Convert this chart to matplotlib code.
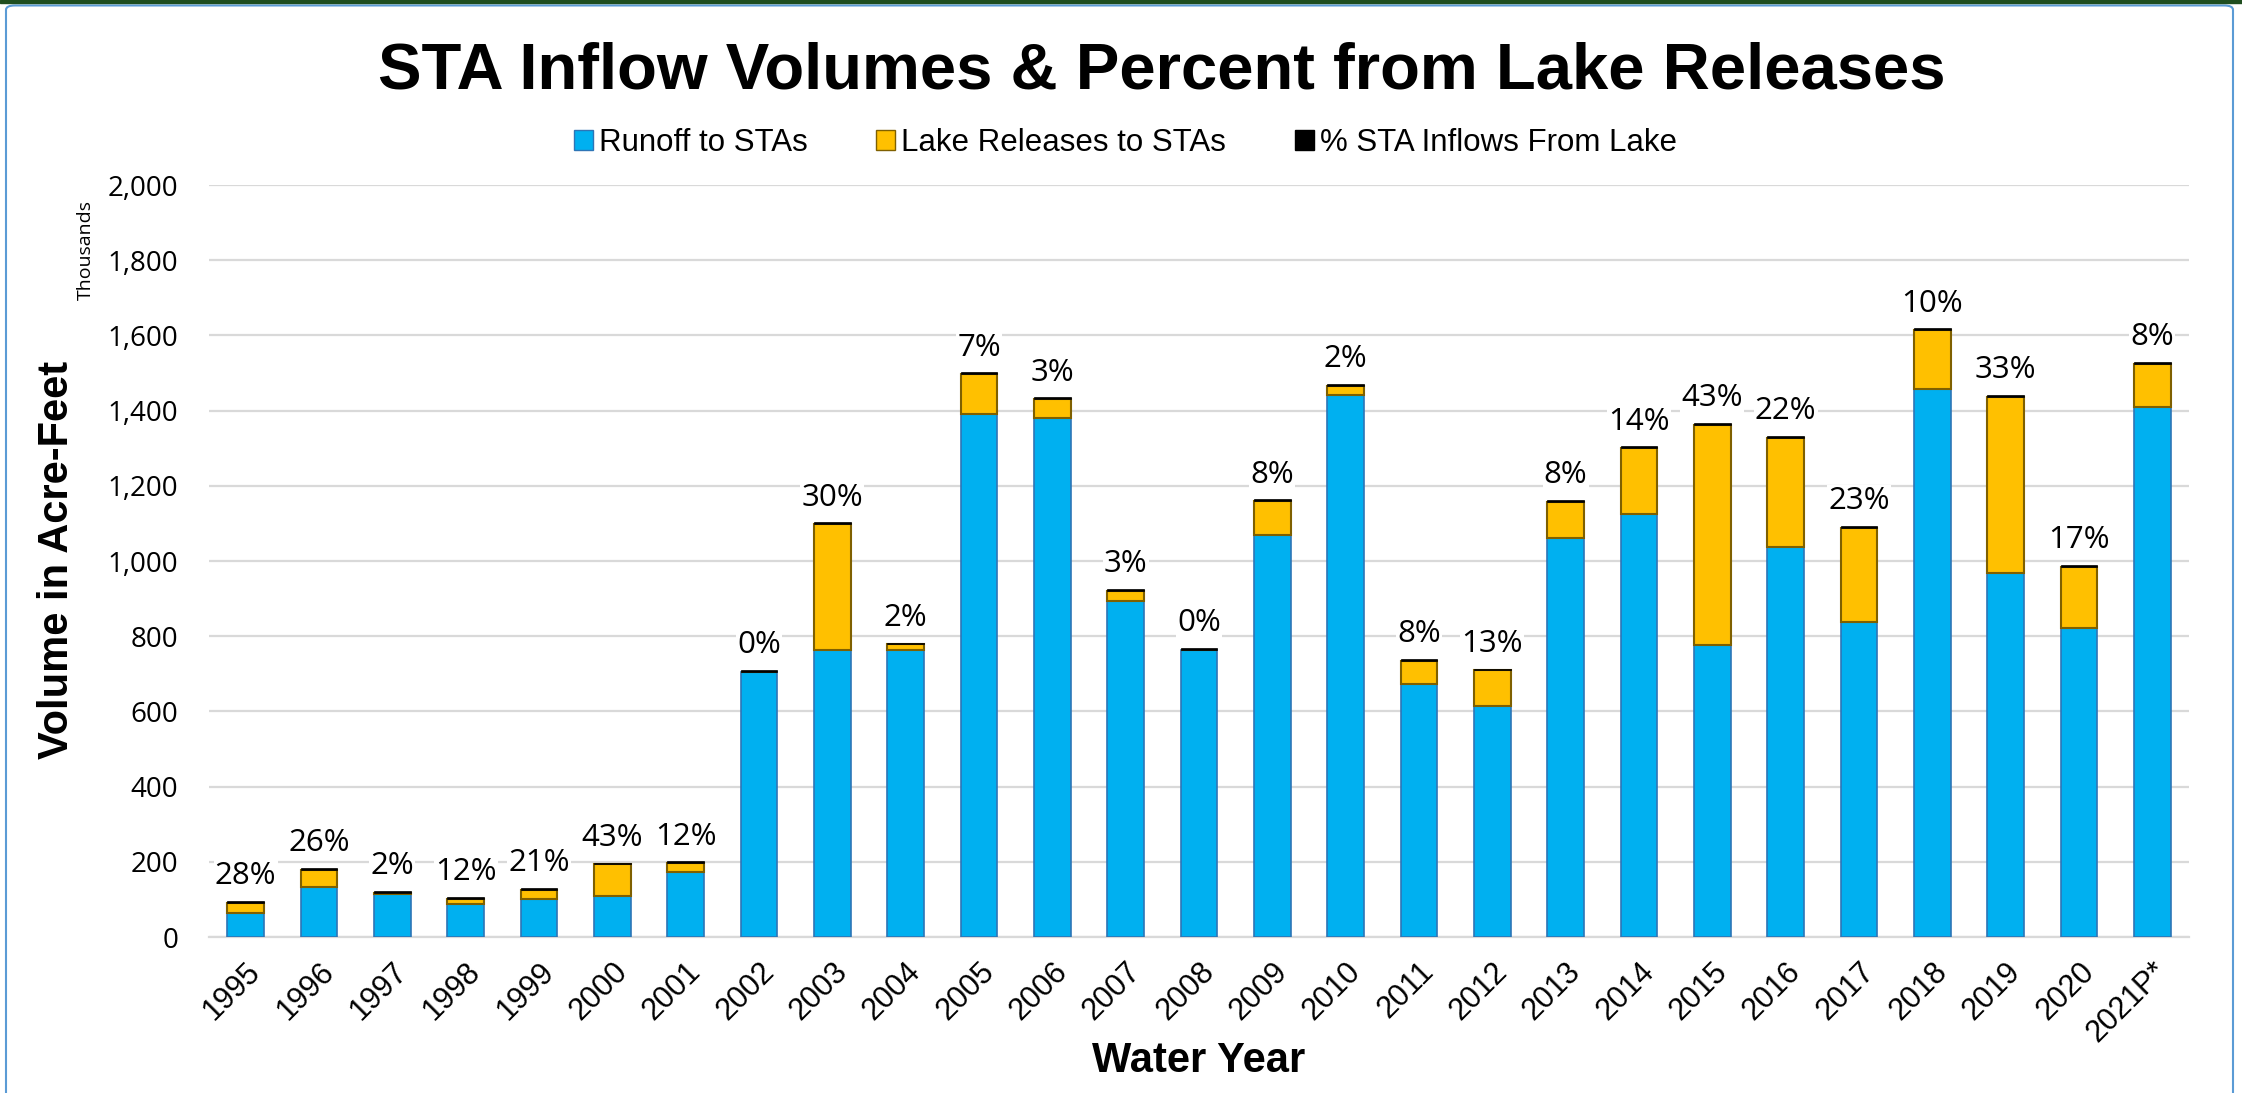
import matplotlib.pyplot as plt
from matplotlib.patches import Patch, FancyBboxPatch
from matplotlib.ticker import FuncFormatter
import numpy as np

# Water years and volumes (thousands of acre-feet)
years = ['1995', '1996', '1997', '1998', '1999', '2000', '2001', '2002', '2003',
         '2004', '2005', '2006', '2007', '2008', '2009', '2010', '2011', '2012',
         '2013', '2014', '2015', '2016', '2017', '2018', '2019', '2020', '2021P*']
runoff = [65, 132, 115, 89, 100, 110, 174, 705, 762, 764, 1391, 1381, 894, 764,
          1070, 1442, 674, 614, 1061, 1125, 777, 1037, 839, 1457, 967, 821, 1409]
lake = [26, 46, 3, 12, 26, 83, 22, 1, 336, 14, 106, 49, 27, 0, 89, 24, 60, 95,
        97, 175, 585, 291, 249, 157, 469, 164, 115]
pct_from_lake = [28, 26, 2, 12, 21, 43, 12, 0, 30, 2, 7, 3, 3, 0, 8, 2, 8, 13,
                 8, 14, 43, 22, 23, 10, 33, 17, 8]

BLUE = '#00B0F0'
GOLD = '#FFC000'
GRID = '#D9D9D9'
cap = 5  # thickness of the black "%" marker on top of each bar

W, H = 2242, 1093
fig = plt.figure(figsize=(W / 100, H / 100), dpi=100)
ax = fig.add_axes([209 / W, 1 - 937 / H, (2189 - 209) / W, (937 - 185) / H])

x = np.arange(len(years))
runoff = np.array(runoff)
lake = np.array(lake)
width = 0.5

ax.bar(x, runoff, width, color=BLUE, edgecolor='#2E75B6', linewidth=1.2, zorder=3)
ax.bar(x, lake, width, bottom=runoff, color=GOLD, edgecolor='#7F6000',
       linewidth=1.5, zorder=3)
top = runoff + lake
ax.bar(x, cap, width, bottom=top, color='black', edgecolor='black',
       linewidth=0.5, zorder=3)

for xi, t, p in zip(x, top + cap, pct_from_lake):
    ax.annotate(f'{p}%', (xi, t), xytext=(0, 7), textcoords='offset points',
                ha='center', va='bottom', fontsize=22.5, family='Open Sans',
                bbox=dict(facecolor='white', edgecolor='none', pad=1), zorder=4)

ax.set_xlim(-0.5, len(years) - 0.5)
ax.set_ylim(0, 2000)
ax.set_yticks(np.arange(0, 2001, 200))
ax.yaxis.set_major_formatter(FuncFormatter(lambda v, _: f'{int(v):,}'))
ax.grid(axis='y', color=GRID, linewidth=1.6, zorder=0)
ax.set_axisbelow(True)
for s in ['top', 'right', 'left']:
    ax.spines[s].set_visible(False)
ax.spines['bottom'].set_color(GRID)
ax.spines['bottom'].set_linewidth(1.6)
ax.tick_params(length=0)
ax.tick_params(axis='y', labelsize=20, pad=22)
for lab in ax.get_yticklabels():
    lab.set_family('Open Sans')

ax.set_xticks(x)
ax.set_xticklabels(years, rotation=45, ha='right', rotation_mode='anchor',
                   fontsize=22, family='Liberation Sans')
ax.tick_params(axis='x', pad=14)

fig.text(0.518, 1 - 71 / H, 'STA Inflow Volumes & Percent from Lake Releases',
         ha='center', va='center', fontsize=47, fontweight='bold',
         family='Liberation Sans')
fig.text(57 / W, 1 - 560 / H, 'Volume in Acre-Feet', rotation=90, ha='center',
         va='center', fontsize=30, fontweight='bold', family='Liberation Sans')
fig.text(86 / W, 1 - 250 / H, 'Thousands', rotation=90, ha='center',
         va='center', fontsize=14, family='Open Sans')
fig.text(1199 / W, 1 - 1061 / H, 'Water Year', ha='center', va='center',
         fontsize=30, fontweight='bold', family='Liberation Sans')

handles = [Patch(facecolor=BLUE, edgecolor='#2E75B6'),
           Patch(facecolor=GOLD, edgecolor='#7F6000'),
           Patch(facecolor='black', edgecolor='black')]
leg = fig.legend(handles, ['Runoff to STAs', 'Lake Releases to STAs',
                           '% STA Inflows From Lake'],
                 loc='center', bbox_to_anchor=(0.502, 1 - 143 / H), ncol=3,
                 frameon=False, prop={'family': 'Liberation Sans', 'size': 22.5},
                 handlelength=0.6, handleheight=0.6, handletextpad=0.2,
                 columnspacing=2.2)

# outer chart border
fig.patches.append(FancyBboxPatch((6 / W, -0.02), (2233 - 6) / W, 1.015,
                                  boxstyle='round,pad=0,rounding_size=0.004',
                                  transform=fig.transFigure, fill=False,
                                  edgecolor='#5B9BD5', linewidth=1.5))
fig.patches.append(plt.Rectangle((0, 1 - 3 / H), 1, 3 / H,
                                 transform=fig.transFigure, color='#1F4E1F'))

fig.savefig('out.png', dpi=100)
